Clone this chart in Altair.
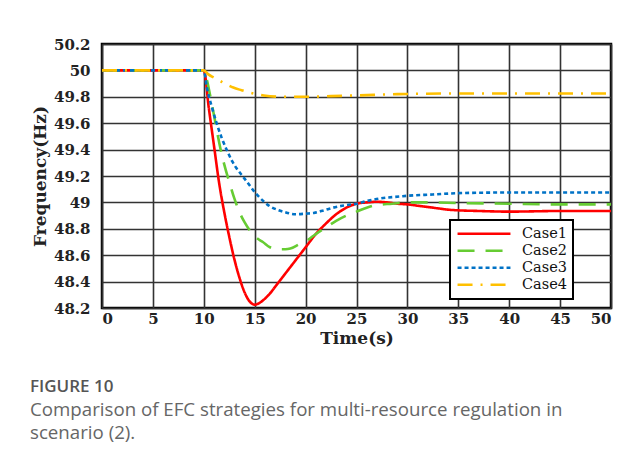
import altair as alt
import pandas as pd

cases = ["Case1", "Case2", "Case3", "Case4"]
colors = ["#FF0000", "#66CC33", "#0072C6", "#FFC000"]
dashes = [[1, 0], [17, 11], [4, 3], [15, 8, 2, 8]]

t1 = [0, 10, 10.5, 11, 11.5, 12, 12.5, 13, 13.5, 14, 14.5, 15, 15.5, 16, 16.5, 17, 17.5, 18, 19, 20, 21, 22, 23, 24, 25, 26, 27, 28, 29, 30, 31, 32, 33, 34, 35, 37, 40, 45, 50]
f1 = [50, 50, 49.71, 49.43, 49.15, 48.93, 48.74, 48.57, 48.43, 48.32, 48.25, 48.225, 48.24, 48.27, 48.31, 48.36, 48.41, 48.46, 48.56, 48.66, 48.76, 48.84, 48.91, 48.96, 48.99, 49.0, 49.005, 49.0, 48.99, 48.985, 48.975, 48.965, 48.955, 48.945, 48.94, 48.935, 48.93, 48.935, 48.935]

t2 = [0, 10, 10.3, 10.6, 11, 11.6, 12, 12.6, 13, 13.6, 14, 14.7, 15.2, 15.8, 16.5, 17.2, 18, 18.5, 19.3, 20.1, 21, 22, 23, 24, 25, 26, 27, 28.5, 30, 32, 35, 40, 45, 50]
f2 = [50, 50, 49.93, 49.82, 49.66, 49.42, 49.29, 49.13, 49.03, 48.91, 48.85, 48.77, 48.73, 48.70, 48.66, 48.645, 48.645, 48.65, 48.68, 48.71, 48.76, 48.81, 48.86, 48.90, 48.93, 48.96, 48.98, 48.99, 49.0, 49.0, 48.995, 48.99, 48.985, 48.985]

t3 = [0, 10, 10.3, 10.8, 11.3, 11.8, 12.3, 12.8, 13.2, 13.7, 14.2, 15.2, 16, 16.5, 17.2, 17.8, 19, 20, 20.8, 21.8, 22.7, 24, 25, 26, 27.3, 29.3, 30, 32.5, 35, 40, 45, 50]
f3 = [50, 50, 49.87, 49.72, 49.59, 49.48, 49.39, 49.31, 49.26, 49.21, 49.16, 49.06, 49.0, 48.97, 48.945, 48.93, 48.91, 48.915, 48.92, 48.94, 48.96, 48.98, 48.99, 49.01, 49.03, 49.045, 49.05, 49.06, 49.07, 49.075, 49.075, 49.075]

t4 = [0, 10, 10.45, 11, 11.6, 12.2, 12.9, 13.7, 14.6, 15.9, 17.8, 20, 22.5, 25, 29, 35, 40, 50]
f4 = [50, 50, 49.97, 49.945, 49.92, 49.895, 49.87, 49.85, 49.83, 49.81, 49.80, 49.80, 49.805, 49.81, 49.82, 49.825, 49.825, 49.825]

x_ticks = [0, 5, 10, 15, 20, 25, 30, 35, 40, 45, 50]
y_ticks = [48.2, 48.4, 48.6, 48.8, 49.0, 49.2, 49.4, 49.6, 49.8, 50.0, 50.2]

rows = []
for name, ts, fs in zip(cases, [t1, t2, t3, t4], [f1, f2, f3, f4]):
    for i, (t, f) in enumerate(zip(ts, fs)):
        rows.append({"case": name, "t": t, "f": f, "i": i})
df = pd.DataFrame(rows)

serif = "DejaVu Serif"

legend_kw = dict(title=None, orient="none", legendX=348, legendY=176,
                 strokeColor="black", fillColor="white", padding=6,
                 symbolType="stroke", symbolSize=2800,
                 symbolStrokeWidth=2.6, clipHeight=15.5,
                 labelFont=serif, labelFontSize=14.5, labelOffset=10,
                 rowPadding=0, labelColor="#111111")

chart = alt.Chart(df).mark_line(strokeWidth=2.6, interpolate="monotone").encode(
    x=alt.X("t:Q", scale=alt.Scale(domain=[0, 50], nice=False),
            axis=alt.Axis(values=x_ticks, title="Time(s)", format="~g",
                          labelPadding=3, titlePadding=4)),
    y=alt.Y("f:Q", scale=alt.Scale(domain=[48.2, 50.2], nice=False, zero=False),
            axis=alt.Axis(values=y_ticks, title="Frequency(Hz)", format="~g",
                          labelPadding=12, titlePadding=4)),
    color=alt.Color("case:N", scale=alt.Scale(domain=cases, range=colors),
                    legend=alt.Legend(**legend_kw)),
    strokeDash=alt.StrokeDash("case:N", scale=alt.Scale(domain=cases, range=dashes),
                              legend=alt.Legend(**legend_kw)),
    order="i:Q",
).properties(
    width=509, height=264,
    autosize=alt.AutoSizeParams(type="none"),
    padding={"left": 94, "top": 36, "right": 22, "bottom": 151},
    title=alt.TitleParams(
        text="FIGURE 10",
        subtitle=["Comparison of EFC strategies for multi-resource regulation in", "scenario (2)."],
        orient="bottom", anchor="start", frame="group", dx=-72, offset=33,
        font="Open Sans", fontSize=17, fontWeight=600, color="#555555",
        subtitleFont="Open Sans", subtitleFontSize=18.7, subtitleColor="#666666",
        subtitleLineHeight=23, subtitlePadding=5,
    ),
).configure_view(
    stroke="black", strokeWidth=2.5
).configure_axis(
    grid=True, gridColor="#333333", gridWidth=1.6, gridOpacity=1,
    ticks=False, domain=False,
    labelFont=serif, labelFontSize=15, labelFontWeight="bold", labelColor="#222222",
    titleFont=serif, titleFontSize=17, titleFontWeight="bold", titleColor="#222222",
).configure_legend(
    strokeWidth=2
)

chart.save("out.html", embed_options={"renderer": "svg", "actions": False})
